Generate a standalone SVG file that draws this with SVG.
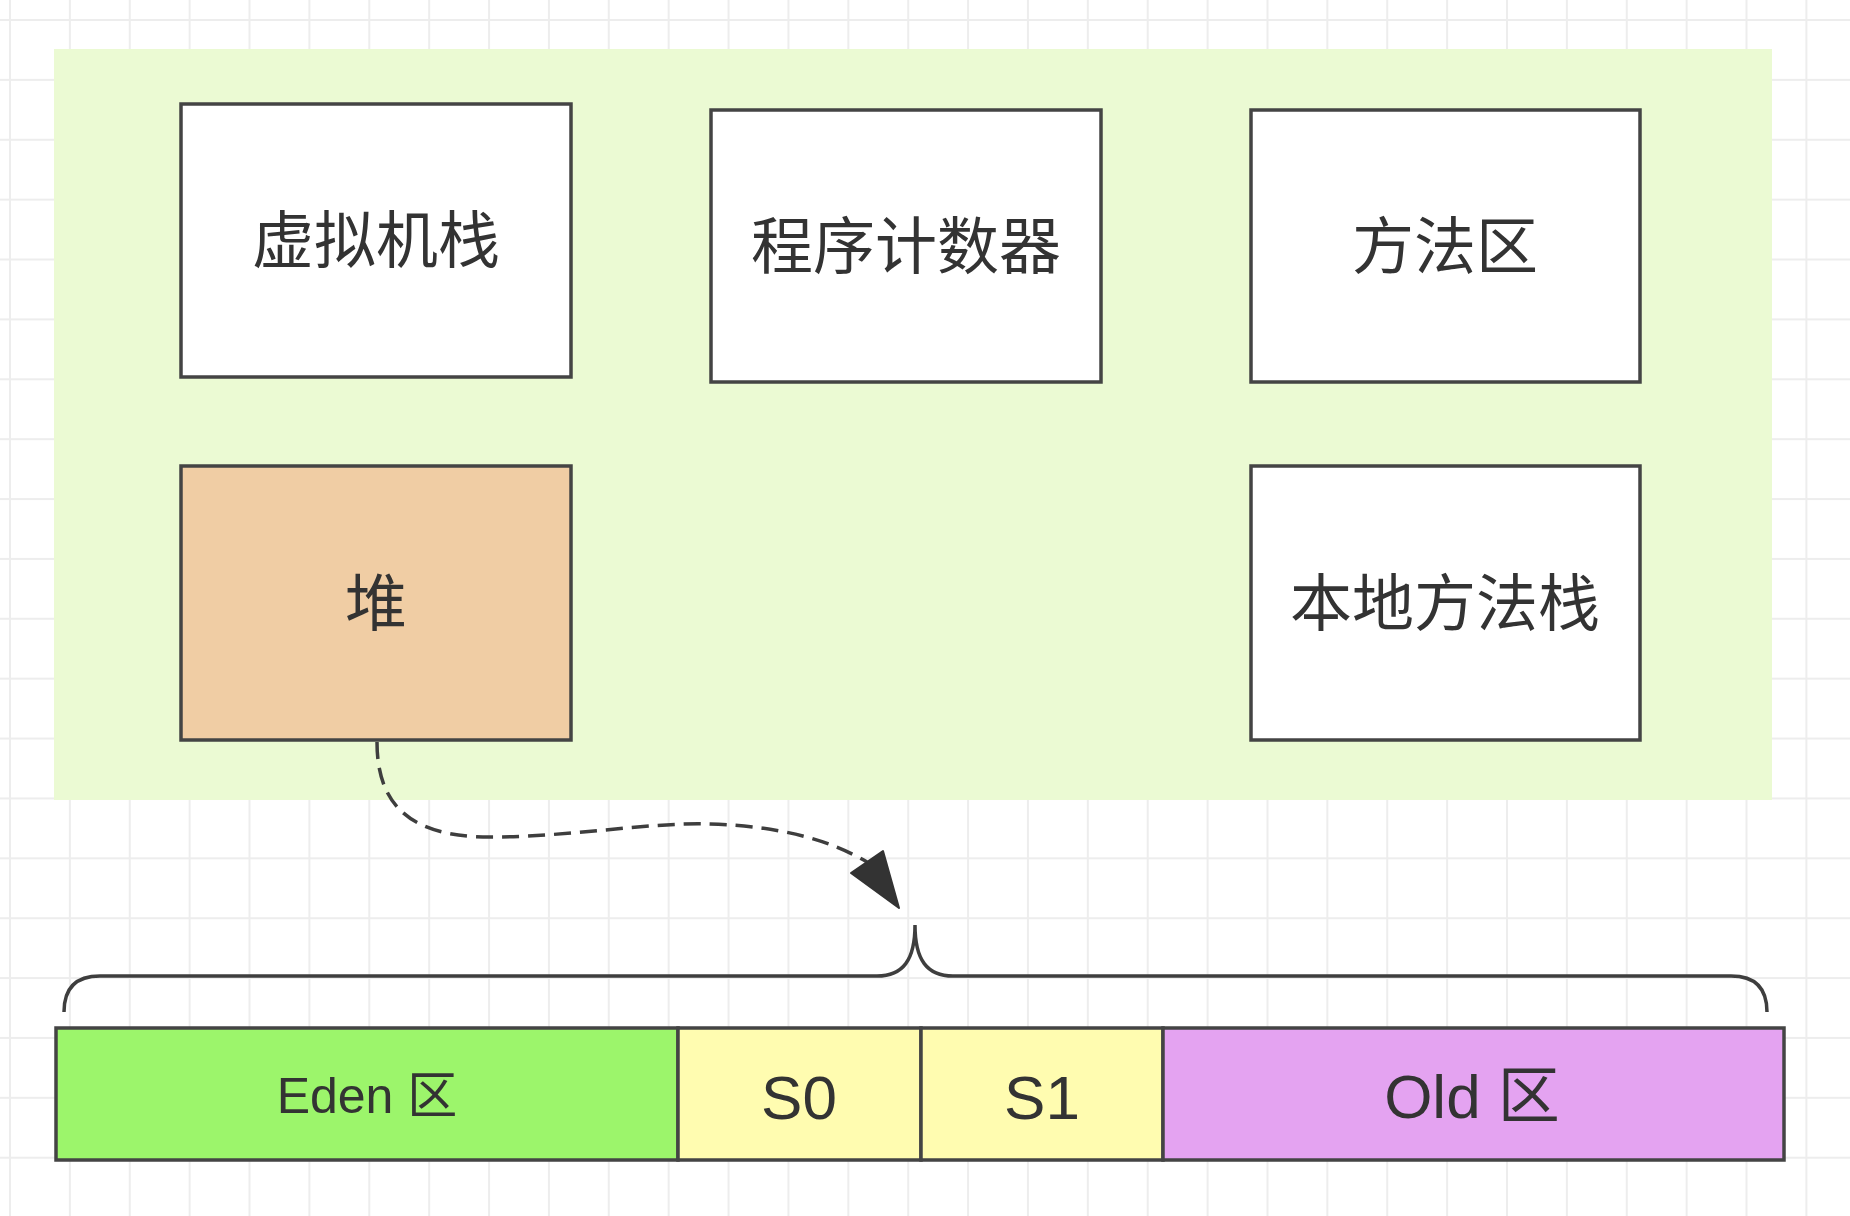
<svg xmlns="http://www.w3.org/2000/svg" width="1850" height="1216" viewBox="0 0 1850 1216">
  <defs>
    <pattern id="grid" patternUnits="userSpaceOnUse" x="9" y="19" width="59.88" height="59.88">
      <rect x="0" y="0" width="2" height="59.88" fill="#ededed"/>
      <rect x="0" y="0" width="59.88" height="2" fill="#ededed"/>
    </pattern>
    <style>
      .box { stroke: #444444; stroke-width: 3.5; }
      .cn { font-family: "Noto Sans CJK SC", "Noto Sans", sans-serif; font-size: 62px; fill: #333333; text-anchor: middle; }
      .lat { font-family: "Liberation Sans", "Noto Sans CJK SC", sans-serif; fill: #333333; text-anchor: middle; }
      .conn { fill: none; stroke: #3e3e3e; stroke-width: 3.5; }
    </style>
  </defs>
  <rect x="0" y="0" width="1850" height="1216" fill="#ffffff"/>
  <rect x="0" y="0" width="1850" height="1216" fill="url(#grid)"/>

  <g id="jvm-area">
    <rect x="54" y="49" width="1718" height="751" fill="#ebfad3"/>
  </g>

  <g id="node-vm-stack">
    <rect class="box" x="181" y="104" width="390" height="273" fill="#ffffff"/>
    <text class="cn" x="376" y="263">虚拟机栈</text>
  </g>
  <g id="node-pc-register">
    <rect class="box" x="711" y="110" width="390" height="272" fill="#ffffff"/>
    <text class="cn" x="906" y="269">程序计数器</text>
  </g>
  <g id="node-method-area">
    <rect class="box" x="1251" y="110" width="389" height="272" fill="#ffffff"/>
    <text class="cn" x="1445" y="269">方法区</text>
  </g>
  <g id="node-heap">
    <rect class="box" x="181" y="466" width="390" height="274" fill="#f0cda4"/>
    <text class="cn" x="376" y="626">堆</text>
  </g>
  <g id="node-native-stack">
    <rect class="box" x="1251" y="466" width="389" height="274" fill="#ffffff"/>
    <text class="cn" x="1445" y="626">本地方法栈</text>
  </g>

  <g id="connectors">
    <path class="conn" stroke-width="4" stroke-dasharray="17 9" d="M377,742 C377,805 410,837 490,837 C570,837 650,822 710,824 C780,826 830,840 867,862"/>
    <polygon points="899,908 851,873 883,851" fill="#333333" stroke="#333333" stroke-width="2" stroke-linejoin="round"/>
    <path id="brace" class="conn" d="M64,1012 C64,988 76,976 100,976 L877,976 C903,976 915,960 915,925 C915,960 927,976 953,976 L1731,976 C1755,976 1767,988 1767,1012"/>
  </g>

  <g id="node-eden">
    <rect class="box" x="56" y="1028" width="622" height="132" fill="#9cf56b"/>
    <text class="lat" x="367" y="1113" font-size="50">Eden 区</text>
  </g>
  <g id="node-s0">
    <rect class="box" x="678" y="1028" width="243" height="132" fill="#fffcb0"/>
    <text class="lat" x="799" y="1119" font-size="62">S0</text>
  </g>
  <g id="node-s1">
    <rect class="box" x="921" y="1028" width="242" height="132" fill="#fffcb0"/>
    <text class="lat" x="1042" y="1119" font-size="62">S1</text>
  </g>
  <g id="node-old">
    <rect class="box" x="1163" y="1028" width="621" height="132" fill="#e4a3f1"/>
    <text class="lat" x="1472" y="1118" font-size="62">Old 区</text>
  </g>
</svg>
